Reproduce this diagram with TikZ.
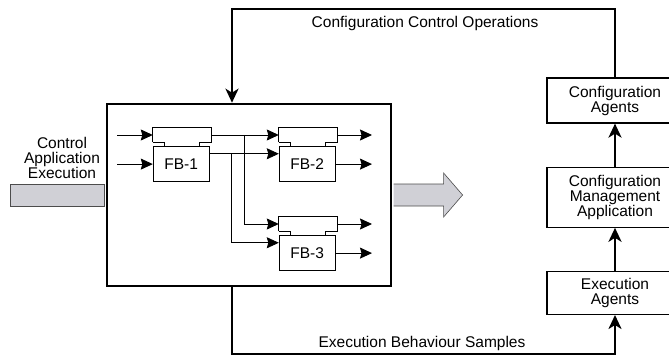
\documentclass[tikz,border=0pt]{standalone}
\usepackage{fontspec}
\setmainfont{Liberation Sans}
\usetikzlibrary{arrows.meta,positioning}
\definecolor{barfill}{RGB}{208,208,214}

\begin{document}
\begin{tikzpicture}[x=1pt,y=1pt,
    font=\fontsize{15.5}{15}\selectfont,
    flow/.style={line width=2.6pt,-{Stealth[length=14pt,width=13pt,inset=4pt]}},
    sig/.style={line width=0.9pt,-{Stealth[length=12pt,width=11pt,inset=1.5pt]}},
    agent/.style={draw,line width=1.2pt,minimum width=136pt,align=center,inner sep=0pt},
    fbhead/.style={minimum width=58pt,minimum height=14pt,inner sep=0pt},
    fbbody/.style={draw,line width=0.8pt,minimum width=56pt,minimum height=35pt,inner sep=0pt},
    bar/.style={draw=black!70,line width=0.6pt,fill=barfill}]
  \clip (0,0) rectangle (669,354);
  \node[draw,line width=2.6pt,minimum width=284pt,minimum height=182pt,inner sep=0pt] (fbnet) at (249,159) {};
  % agents on the right
  \node[agent,minimum height=45pt] (ca) at (615,253.5) {Configuration\\Agents};
  \node[agent,minimum height=60pt,below=43pt of ca] (cma) {Configuration\\Management\\Application};
  \node[agent,minimum height=43pt,below=43pt of cma] (ea) {Execution\\Agents};
  \draw[flow] (cma) -- (ca);
  \draw[flow] (ea) -- (cma);
  % function blocks
  \foreach \n/\x/\y in {1/182/219,2/308/219,3/308/130}{
    \node[fbhead] (fb\n e) at (\x,\y) {};
    \node[fbbody,below=4pt of fb\n e.south west,anchor=north west] (fb\n) {FB-\n};
    \draw[line width=0.8pt] (fb\n e.south west) -- (fb\n e.north west) -- (fb\n e.north east)
      -- (fb\n e.south east) -- ++(-12,0) -- ++(0,-4) (fb\n e.south west) -- ++(12,0) -- ++(0,-4);
  }
  \coordinate (xin) at (117,0);
  \coordinate (xout) at (372,0);
  \coordinate (br1) at (244,0);
  \coordinate (br2) at (231,0);
  \draw[sig] (fb1e.west -| xin) -- (fb1e.west);
  \draw[sig] (fb1.west -| xin) -- (fb1.west);
  \draw[sig] (fb1e.east) -- (fb2e.west);
  \draw[sig] (fb1.20) -- (fb2.160);
  \draw[sig] (br1 |- fb1e.east) |- (fb3e.west);
  \draw[sig] (br2 |- fb1.20) |- (fb3.160);
  \foreach \b in {fb2e,fb2,fb3e,fb3}
    \draw[sig] (\b.east) -- (\b.east -| xout);
  % application in and out
  \node[align=center] (caelabel) at (62,196) {Control\\Application\\Execution};
  \node[bar,minimum width=94pt,minimum height=22pt,inner sep=0pt,anchor=east] (inbar) at ([xshift=-1.3pt]fbnet.west) {};
  \draw[bar] ([shift={(1.3,11)}]fbnet.east) -- ++(50,0) -- ++(0,11) -- ++(19,-22) -- ++(-19,-22) -- ++(0,11) -- ++(-50,0);
  % configuration loop
  \coordinate (cfgturn) at (232,345);
  \coordinate (smpturn) at (232,-0.6);
  \draw[flow] (ca.north) |- (cfgturn) -- (cfgturn |- fbnet.north);
  \draw[flow] (smpturn |- fbnet.south) -- (smpturn) -| (ea.south);
  \node (ccolabel) at (425,331) {Configuration Control Operations};
  \node (ebslabel) at (422,11) {Execution Behaviour Samples};
\end{tikzpicture}
\end{document}
